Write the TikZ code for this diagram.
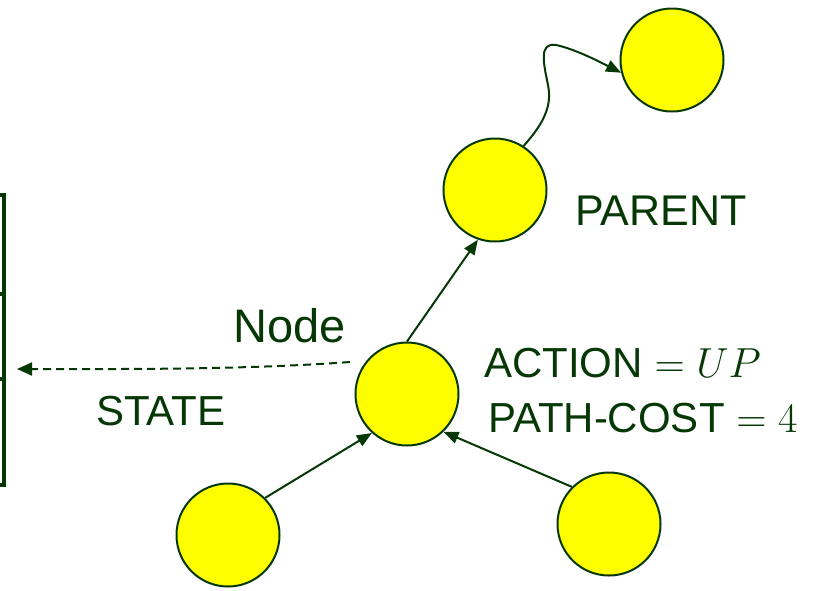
\RequirePackage{fix-cm}
\documentclass[tikz,border=0pt]{standalone}
\usepackage{fontspec}
\setmainfont{Liberation Sans}
\usetikzlibrary{arrows.meta,calc}
\definecolor{dkgreen}{HTML}{063806}
\definecolor{nodeyellow}{HTML}{FFFF00}
\tikzset{
  treenode/.style={circle, draw=dkgreen, fill=nodeyellow, line width=2pt,
                   minimum size=103pt, inner sep=0pt},
  cell/.style={rectangle, draw=dkgreen, line width=4pt, minimum width=60pt,
               inner sep=0pt, anchor=north east},
  link/.style={draw=dkgreen, line width=2pt,
               -{Triangle[length=15pt,width=12pt]}},
  lbl/.style={text=dkgreen, inner sep=0pt, anchor=base west},
}
\begin{document}
\begin{tikzpicture}[x=1pt,y=-1pt]
  \useasboundingbox (0,0) rectangle (821,590);
  \clip (0,0) rectangle (821,590);

  % state record (only its right edge is in view)
  \node[cell, minimum height=99pt]  (cell1) at (6,193) {};
  \node[cell, minimum height=85pt]  (cell2) at (6,292) {};
  \node[cell, minimum height=106pt] (cell3) at (6,377) {};
  \coordinate (statein) at (17,369);

  % search tree
  \node[treenode] (top)    at (672,60)  {};
  \node[treenode] (parent) at (495,190) {};
  \node[treenode] (mid)    at (407,394) {};
  \node[treenode] (bl)     at (228,535) {};
  \node[treenode] (br)     at (609,524) {};

  % connectors
  \draw[link] (parent.57) .. controls (545,122) and (552,105) .. (548,85)
                          .. controls (544,65) and (538,42) .. (556,45)
                          .. controls (575,49) and (600,62) .. (top.194);
  \draw[link] (mid.north) -- (parent.251);
  \draw[link] (bl.45) -- (mid.228);
  \draw[link] (br.135) -- (mid.314);
  \draw[draw=dkgreen, line width=2pt, dash pattern=on 8pt off 5pt,
        -{Triangle[length=15pt,width=13pt]}]
        ($(mid.center)+(-57,-32)$) .. controls (240,370) and (120,369) .. (statein);

  % labels
  \node[lbl, font=\fontsize{43}{48}\selectfont] (parentlbl) at (575,225) {PARENT};
  \node[lbl, font=\fontsize{47}{54}\selectfont] (nodelbl)   at (233,342) {Node};
  \node[lbl, font=\fontsize{42}{48}\selectfont] (statelbl)  at (96,425)  {STATE};
  \node[lbl, font=\fontsize{42}{48}\selectfont] (actionlbl) at (484,377) {ACTION $=UP$};
  \node[lbl, font=\fontsize{42}{48}\selectfont] (costlbl)   at (488,432) {PATH-COST $=4$};
\end{tikzpicture}
\end{document}
